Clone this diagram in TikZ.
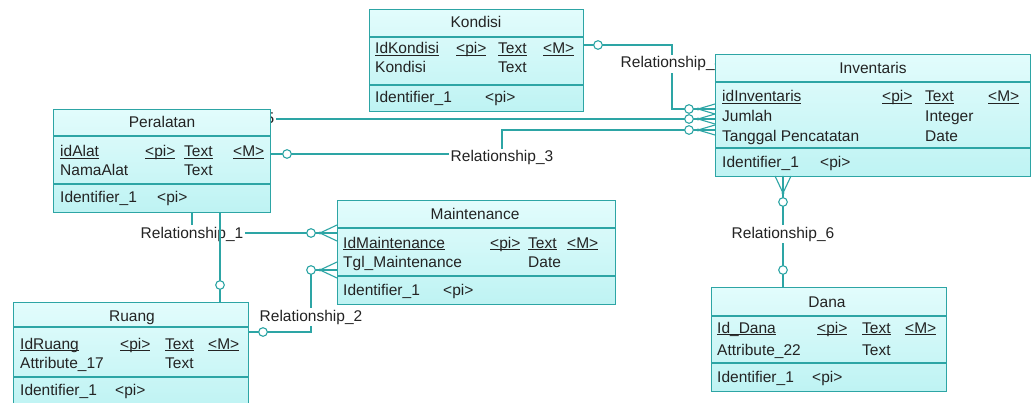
\documentclass[tikz,border=0pt]{standalone}
\usepackage{fontspec}
\setmainfont{Liberation Sans}
\usetikzlibrary{calc}

\definecolor{erline}{RGB}{45,165,165}
\definecolor{erfillA}{RGB}{226,252,252}
\definecolor{erfillB}{RGB}{190,243,243}
\definecolor{ertext}{RGB}{35,35,35}

% underline at a fixed depth, whatever the descenders
\newcommand\ulk[1]{\underline{\smash{#1}}}

% entity box: name, x, y, width, height, first divider, second divider
\newcommand\entitybox[7]{%
  \node[ent, minimum width=#4pt, minimum height=#5pt] (#1) at (#2,#3) {};
  \draw[conn] ($(#1.north west)+(0,#6)$) -- ($(#1.north east)+(0,#6)$);
  \draw[conn] ($(#1.north west)+(0,#7)$) -- ($(#1.north east)+(0,#7)$);
}

\tikzset{
  pics/crowW/.style={code={
    \draw[conn] (-17,0) -- (0,-#1) (-17,0) -- (0,0) (-17,0) -- (0,#1);
    \fill[erline] (-17,0) circle (1.7);
    \draw[conn, fill=white] (-26,0) circle (4.3);
  }},
  pics/crowN/.style={code={
    \draw[conn] (0,17) -- (-#1,0) (0,17) -- (0,0) (0,17) -- (#1,0);
    \fill[erline] (0,17) circle (1.7);
    \draw[conn, fill=white] (0,26) circle (4.3);
  }},
  pics/ring/.style={code={
    \draw[conn, fill=white] (0,0) circle (4.3);
  }}
}

\begin{document}
\begin{tikzpicture}[x=1pt, y=-1pt,
  font=\fontsize{15.5}{18}\selectfont, text=ertext,
  ent/.style={draw=erline, line width=1.2pt, top color=erfillA,
    bottom color=erfillB, inner sep=0pt, anchor=north west},
  conn/.style={draw=erline, line width=1.1pt},
  rel/.style={fill=white, inner sep=1.5pt, anchor=base, yshift=-5pt, text=ertext},
  cell/.style={anchor=base west, inner sep=0pt, yshift=-5pt},
  ttl/.style={anchor=base, inner sep=0pt, yshift=-5pt}]

\useasboundingbox[fill=white] (0,0) rectangle (1032,403);

% ---------- entity corners used by the connectors
\path (369,9)  coordinate (konNW) (583,111) coordinate (konSE);
\path (715,54) coordinate (invNW) (1030,176) coordinate (invSE);
\path (53,109) coordinate (perNW) (270,212) coordinate (perSE);
\path (337,200) coordinate (maiNW) (615,304) coordinate (maiSE);
\path (13,302) coordinate (ruaNW) (248,410) coordinate (ruaSE);
\path (711,287) coordinate (danNW) (946,391) coordinate (danSE);

% ---------- connectors and their labels
% Kondisi - Inventaris
\coordinate (a1) at (konSE |- 0,45);
\coordinate (a2) at (672,45);
\coordinate (a3) at (672,109);
\coordinate (a4) at (invNW |- 0,109);
\draw[conn] (a1) -- (a2) -- (a3) -- (a4);
\node[rel] (r4) at (672,63) {Relationship\_4};

% Peralatan - Inventaris (upper line)
\coordinate (b1) at (perSE |- 0,119);
\coordinate (b2) at (invNW |- 0,119);
\draw[conn] (b1) -- (b2);
\node[rel, anchor=base east] (r5) at (276,119) {5};

% Peralatan - Inventaris (Relationship_3)
\coordinate (c1) at (perSE |- 0,154);
\coordinate (c2) at (502,154);
\coordinate (c3) at (502,130);
\coordinate (c4) at (invNW |- 0,130);
\draw[conn] (c1) -- (c2) -- (c3) -- (c4);
\node[rel] (r3) at (502,157) {Relationship\_3};

% Peralatan - Maintenance
\coordinate (d1) at (perSE -| 192,0);
\coordinate (d2) at (192,233);
\coordinate (d3) at (maiNW |- 0,233);
\draw[conn] (d1) -- (d2) -- (d3);
\node[rel] (r1) at (192,233) {Relationship\_1};

% Ruang - Maintenance
\coordinate (f1) at (ruaSE |- 0,332);
\coordinate (f2) at (311,332);
\coordinate (f3) at (311,270);
\coordinate (f4) at (maiNW |- 0,270);
\draw[conn] (f1) -- (f2) -- (f3) -- (f4);
\node[rel] (r2) at (311,316) {Relationship\_2};

% Inventaris - Dana
\coordinate (g1) at (invSE -| 783,0);
\coordinate (g2) at (danNW -| 783,0);
\draw[conn] (g1) -- (g2);
\node[rel] (r6) at (783,233) {Relationship\_6};

% Peralatan - Ruang
\coordinate (e1) at (perSE -| 220,0);
\coordinate (e2) at (ruaNW -| 220,0);
\draw[conn] (e1) -- (e2);

% ---------- entities
\entitybox{kon}{369}{9}{214}{102}{28}{76}
\node[ttl] (konT) at (476,23) {Kondisi};
\node[cell] (konA1) at (375,49) {\ulk{IdKondisi}};
\node[cell] (konA2) at (456,49) {\ulk{<pi>}};
\node[cell] (konA3) at (498,49) {\ulk{Text}};
\node[cell] (konA4) at (543,49) {\ulk{<M>}};
\node[cell] (konB1) at (375,68) {Kondisi};
\node[cell] (konB3) at (498,68) {Text};
\node[cell] (konI1) at (375,98) {Identifier\_1};
\node[cell] (konI2) at (485,98) {<pi>};

\entitybox{inv}{715}{54}{315}{122}{28}{94}
\node[ttl] (invT) at (873,69) {Inventaris};
\node[cell] (invA1) at (722,97) {\ulk{idInventaris}};
\node[cell] (invA2) at (882,97) {\ulk{<pi>}};
\node[cell] (invA3) at (925,97) {\ulk{Text}};
\node[cell] (invA4) at (988,97) {\ulk{<M>}};
\node[cell] (invB1) at (722,117) {Jumlah};
\node[cell] (invB3) at (925,117) {Integer};
\node[cell] (invC1) at (722,137) {Tanggal Pencatatan};
\node[cell] (invC3) at (925,137) {Date};
\node[cell] (invI1) at (722,163) {Identifier\_1};
\node[cell] (invI2) at (820,163) {<pi>};

\entitybox{per}{53}{109}{217}{103}{27}{75}
\node[ttl] (perT) at (162,123) {Peralatan};
\node[cell] (perA1) at (60,152) {\ulk{idAlat}};
\node[cell] (perA2) at (145,152) {\ulk{<pi>}};
\node[cell] (perA3) at (184,152) {\ulk{Text}};
\node[cell] (perA4) at (233,152) {\ulk{<M>}};
\node[cell] (perB1) at (60,171) {NamaAlat};
\node[cell] (perB3) at (184,171) {Text};
\node[cell] (perI1) at (60,198) {Identifier\_1};
\node[cell] (perI2) at (157,198) {<pi>};

\entitybox{mai}{337}{200}{278}{104}{28}{76}
\node[ttl] (maiT) at (475,215) {Maintenance};
\node[cell] (maiA1) at (343,243) {\ulk{IdMaintenance}};
\node[cell] (maiA2) at (490,243) {\ulk{<pi>}};
\node[cell] (maiA3) at (528,243) {\ulk{Text}};
\node[cell] (maiA4) at (567,243) {\ulk{<M>}};
\node[cell] (maiB1) at (343,262) {Tgl\_Maintenance};
\node[cell] (maiB3) at (528,262) {Date};
\node[cell] (maiI1) at (343,290) {Identifier\_1};
\node[cell] (maiI2) at (443,290) {<pi>};

\entitybox{rua}{13}{302}{235}{108}{25}{75}
\node[ttl] (ruaT) at (132,316) {Ruang};
\node[cell] (ruaA1) at (20,344) {\ulk{IdRuang}};
\node[cell] (ruaA2) at (120,344) {\ulk{<pi>}};
\node[cell] (ruaA3) at (165,344) {\ulk{Text}};
\node[cell] (ruaA4) at (208,344) {\ulk{<M>}};
\node[cell] (ruaB1) at (20,363) {Attribute\_17};
\node[cell] (ruaB3) at (165,363) {Text};
\node[cell] (ruaI1) at (20,390) {Identifier\_1};
\node[cell] (ruaI2) at (115,390) {<pi>};

\entitybox{dan}{711}{287}{235}{104}{29}{76}
\node[ttl] (danT) at (827,302) {Dana};
\node[cell] (danA1) at (717,328) {\ulk{Id\_Dana}};
\node[cell] (danA2) at (817,328) {\ulk{<pi>}};
\node[cell] (danA3) at (862,328) {\ulk{Text}};
\node[cell] (danA4) at (905,328) {\ulk{<M>}};
\node[cell] (danB1) at (717,350) {Attribute\_22};
\node[cell] (danB3) at (862,350) {Text};
\node[cell] (danI1) at (717,377) {Identifier\_1};
\node[cell] (danI2) at (812,377) {<pi>};

% ---------- cardinality marks
\pic at (a4) {crowW=5};
\pic at (b2) {crowW=5};
\pic at (c4) {crowW=5};
\pic at (d3) {crowW=8};
\pic at (f4) {crowW=8};
\pic at (g1) {crowN=8};
\pic at ($(a1)+(15,0)$) {ring};
\pic at ($(c1)+(17,0)$) {ring};
\pic at ($(e2)+(0,-17)$) {ring};
\pic at ($(f1)+(15,0)$) {ring};
\pic at ($(g2)+(0,-17)$) {ring};
\end{tikzpicture}
\end{document}
